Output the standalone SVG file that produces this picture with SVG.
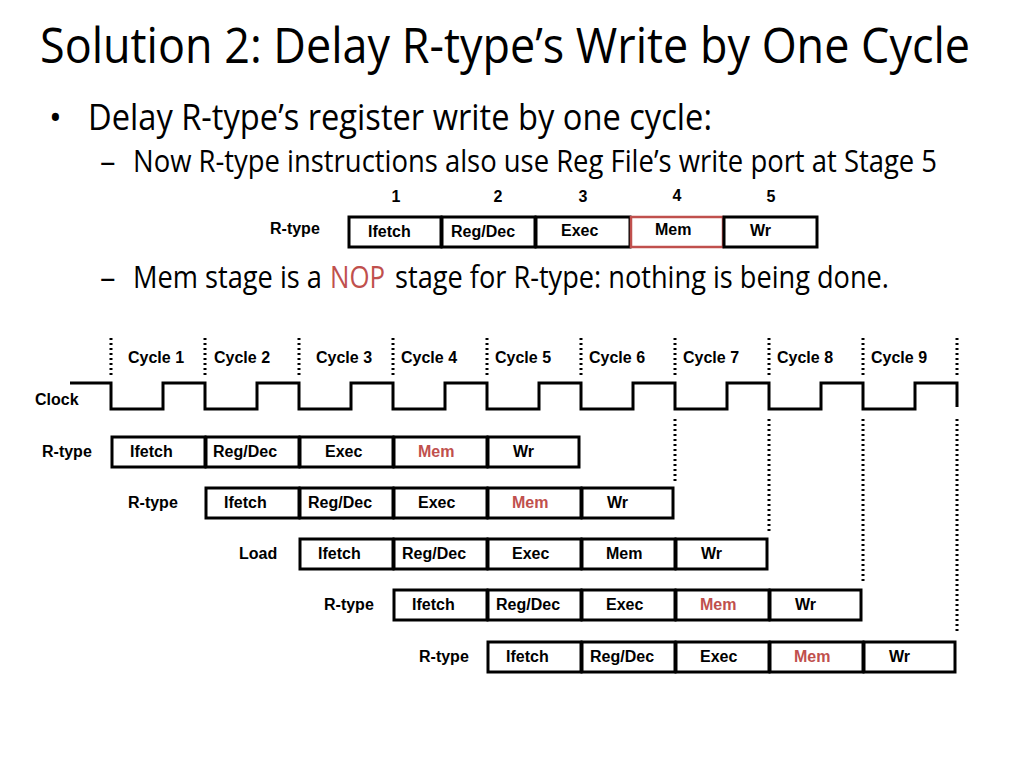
<svg xmlns="http://www.w3.org/2000/svg" width="1024" height="768" viewBox="0 0 1024 768">
<style>
.t{font-family:"Open Sans","Noto Sans","Liberation Sans",sans-serif;fill:#000}
.b{font-family:"Liberation Sans",Arial,sans-serif;font-weight:bold;font-size:16px;fill:#000}
.red{fill:#c0504d}
.box{fill:#fff;stroke:#000;stroke-width:3}
.rbox{fill:#fff;stroke:#c0504d;stroke-width:2.5}
.dot{stroke:#000;stroke-width:3;stroke-dasharray:2 3;fill:none}
.clk{stroke:#000;stroke-width:3;fill:none}
</style>
<rect width="1024" height="768" fill="#fff"/>
<g id="title">
<text class="t" transform="translate(40,63) scale(1,1.17)" font-size="42.5" textLength="930" lengthAdjust="spacingAndGlyphs">Solution 2: Delay R-type’s Write by One Cycle</text>
</g>
<g id="bullets">
<text class="t" x="49" y="130" font-size="34">•</text>
<text class="t" transform="translate(88,130) scale(1,1.17)" font-size="30.8" textLength="624" lengthAdjust="spacingAndGlyphs">Delay R-type’s register write by one cycle:</text>
<text class="t" x="100" y="172" font-size="31">–</text>
<text class="t" transform="translate(133,172) scale(1,1.17)" font-size="26.5" textLength="804" lengthAdjust="spacingAndGlyphs">Now R-type instructions also use Reg File’s write port at Stage 5</text>
<text class="t" x="100" y="288" font-size="31">–</text>
<text class="t" transform="translate(133,288) scale(1,1.17)" font-size="26.5" textLength="189" lengthAdjust="spacingAndGlyphs">Mem stage is a</text>
<text class="t red" transform="translate(330,288) scale(1,1.17)" font-size="26.5" textLength="55" lengthAdjust="spacingAndGlyphs">NOP</text>
<text class="t" transform="translate(395,288) scale(1,1.17)" font-size="26.5" textLength="494" lengthAdjust="spacingAndGlyphs">stage for R-type: nothing is being done.</text>
</g>
<g id="stage-diagram">
<g class="b" text-anchor="middle">
<text x="396" y="202">1</text><text x="498" y="202">2</text><text x="583" y="202">3</text><text x="677" y="201">4</text><text x="771" y="202">5</text>
</g>
<text class="b" x="270" y="234">R-type</text>
<g id="s-ifetch"><rect class="box" x="349" y="217" width="92" height="30"/><text class="b" x="368" y="237">Ifetch</text></g>
<g id="s-regdec"><rect class="box" x="442" y="217" width="93" height="30"/><text class="b" x="451" y="237">Reg/Dec</text></g>
<g id="s-exec"><rect class="box" x="536" y="217" width="94" height="30"/><text class="b" x="561" y="236">Exec</text></g>
<g id="s-mem"><rect class="rbox" x="631" y="217" width="92" height="30"/><text class="b" x="655" y="235">Mem</text></g>
<g id="s-wr"><rect class="box" x="724" y="217" width="93" height="30"/><text class="b" x="750" y="236">Wr</text></g>
</g>
<g id="connectors">
<g id="cycle-lines">
<path class="dot" d="M111,338V378M205,338V378M299,338V378M393,338V378M487,338V378M581,338V378M675,338V378M769,338V378M863,338V378M957,338V378"/>
<path class="dot" d="M675,419V482M769,419V532M863,419V583M957,419V634"/>
</g>
<path id="clock-wave" class="clk" d="M70,383H111V409H163V383H205V409H257V383H299V409H351V383H393V409H445V383H487V409H539V383H581V409H633V383H675V409H727V383H769V409H821V383H863V409H915V383H957V407"/>
</g>
<g id="cycle-labels" class="b">
<text x="128" y="363">Cycle 1</text><text x="214" y="363">Cycle 2</text><text x="316" y="363">Cycle 3</text><text x="401" y="363">Cycle 4</text><text x="495" y="363">Cycle 5</text><text x="589" y="363">Cycle 6</text><text x="683" y="363">Cycle 7</text><text x="777" y="363">Cycle 8</text><text x="871" y="363">Cycle 9</text>
<text x="35" y="405">Clock</text>
</g>
<g id="row1">
<text class="b" x="42" y="457">R-type</text>
<rect class="box" x="112" y="437" width="93" height="30"/><text class="b" x="130" y="457">Ifetch</text>
<rect class="box" x="206" y="437" width="93" height="30"/><text class="b" x="213" y="457">Reg/Dec</text>
<rect class="box" x="300" y="437" width="93" height="30"/><text class="b" x="325" y="457">Exec</text>
<rect class="box" x="394" y="437" width="93" height="30"/><text class="b red" x="418" y="457">Mem</text>
<rect class="box" x="488" y="437" width="91" height="30"/><text class="b" x="513" y="457">Wr</text>
</g>
<g id="row2">
<text class="b" x="128" y="508">R-type</text>
<rect class="box" x="206" y="488" width="93" height="30"/><text class="b" x="224" y="508">Ifetch</text>
<rect class="box" x="300" y="488" width="93" height="30"/><text class="b" x="308" y="508">Reg/Dec</text>
<rect class="box" x="394" y="488" width="93" height="30"/><text class="b" x="418" y="508">Exec</text>
<rect class="box" x="488" y="488" width="93" height="30"/><text class="b red" x="512" y="508">Mem</text>
<rect class="box" x="582" y="488" width="91" height="30"/><text class="b" x="607" y="508">Wr</text>
</g>
<g id="row3">
<text class="b" x="239" y="559">Load</text>
<rect class="box" x="300" y="539" width="93" height="30"/><text class="b" x="318" y="559">Ifetch</text>
<rect class="box" x="394" y="539" width="93" height="30"/><text class="b" x="402" y="559">Reg/Dec</text>
<rect class="box" x="488" y="539" width="93" height="30"/><text class="b" x="512" y="559">Exec</text>
<rect class="box" x="582" y="539" width="93" height="30"/><text class="b" x="606" y="559">Mem</text>
<rect class="box" x="676" y="539" width="91" height="30"/><text class="b" x="701" y="559">Wr</text>
</g>
<g id="row4">
<text class="b" x="324" y="610">R-type</text>
<rect class="box" x="394" y="590" width="93" height="30"/><text class="b" x="412" y="610">Ifetch</text>
<rect class="box" x="488" y="590" width="93" height="30"/><text class="b" x="496" y="610">Reg/Dec</text>
<rect class="box" x="582" y="590" width="93" height="30"/><text class="b" x="606" y="610">Exec</text>
<rect class="box" x="676" y="590" width="93" height="30"/><text class="b red" x="700" y="610">Mem</text>
<rect class="box" x="770" y="590" width="91" height="30"/><text class="b" x="795" y="610">Wr</text>
</g>
<g id="row5">
<text class="b" x="419" y="662">R-type</text>
<rect class="box" x="488" y="642" width="93" height="30"/><text class="b" x="506" y="662">Ifetch</text>
<rect class="box" x="582" y="642" width="93" height="30"/><text class="b" x="590" y="662">Reg/Dec</text>
<rect class="box" x="676" y="642" width="93" height="30"/><text class="b" x="700" y="662">Exec</text>
<rect class="box" x="770" y="642" width="93" height="30"/><text class="b red" x="794" y="662">Mem</text>
<rect class="box" x="864" y="642" width="91" height="30"/><text class="b" x="889" y="662">Wr</text>
</g>
</svg>
